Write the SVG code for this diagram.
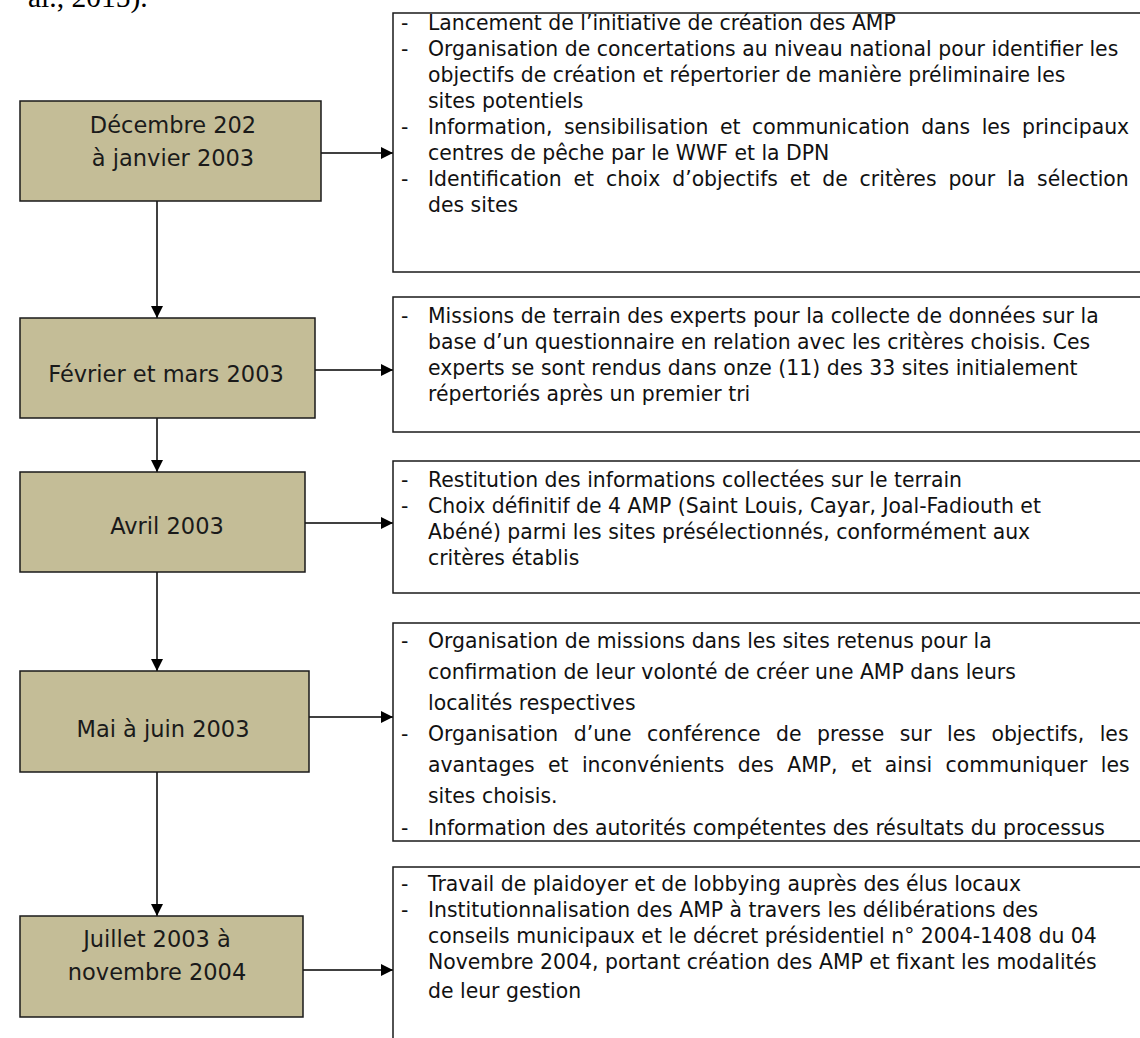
<svg xmlns="http://www.w3.org/2000/svg" width="1140" height="1038" viewBox="0 0 1140 1038">
<defs>
<style>
.bg{fill:#ffffff}
.date{fill:#C4BD97;stroke:#1a1a1a;stroke-width:1.5}
.info{fill:#ffffff;stroke:#1a1a1a;stroke-width:1.5}
.dt{font-family:"DejaVu Sans",sans-serif;font-size:22.5px;fill:#1a1a1a;text-anchor:middle}
.tx{font-family:"DejaVu Sans",sans-serif;font-size:20.4px;fill:#111111}
.cap{font-family:"Liberation Serif",serif;font-size:29.5px;fill:#000}
.conn{stroke:#000;stroke-width:1.5;fill:none}
</style>
<marker id="ah" viewBox="0 0 10 10" refX="10" refY="5" markerUnits="userSpaceOnUse" markerWidth="14" markerHeight="12" orient="auto">
<path d="M0,0 L10,5 L0,10 z" fill="#000"/>
</marker>
</defs>
<rect class="bg" x="0" y="0" width="1140" height="1038"/>
<text class="cap" x="28" y="7">al., 2015).</text>

<g id="connectors">
<line class="conn" x1="157" y1="201" x2="157" y2="318" marker-end="url(#ah)"/>
<line class="conn" x1="157" y1="418" x2="157" y2="472" marker-end="url(#ah)"/>
<line class="conn" x1="157" y1="572" x2="157" y2="671" marker-end="url(#ah)"/>
<line class="conn" x1="157" y1="772" x2="157" y2="916" marker-end="url(#ah)"/>
<line class="conn" x1="321" y1="153" x2="393" y2="153" marker-end="url(#ah)"/>
<line class="conn" x1="315" y1="370" x2="393" y2="370" marker-end="url(#ah)"/>
<line class="conn" x1="305" y1="523" x2="393" y2="523" marker-end="url(#ah)"/>
<line class="conn" x1="309" y1="717" x2="393" y2="717" marker-end="url(#ah)"/>
<line class="conn" x1="303" y1="970" x2="393" y2="970" marker-end="url(#ah)"/>
</g>

<g id="d1">
<rect class="date" x="20" y="101" width="301" height="100"/>
<text class="dt" x="173" y="133">Décembre 202</text>
<text class="dt" x="173" y="166">à janvier 2003</text>
</g>
<g id="d2">
<rect class="date" x="20" y="318" width="295" height="100"/>
<text class="dt" x="166" y="382">Février et mars 2003</text>
</g>
<g id="d3">
<rect class="date" x="20" y="472" width="285" height="100"/>
<text class="dt" x="167" y="534">Avril 2003</text>
</g>
<g id="d4">
<rect class="date" x="20" y="671" width="289" height="101"/>
<text class="dt" x="163" y="737">Mai à juin 2003</text>
</g>
<g id="d5">
<rect class="date" x="20" y="916" width="283" height="101"/>
<text class="dt" x="157" y="947">Juillet 2003 à</text>
<text class="dt" x="157" y="980">novembre 2004</text>
</g>

<g id="i1">
<rect class="info" x="393" y="13" width="800" height="259"/>
<text class="tx" x="401" y="30">-</text>
<text class="tx" x="428" y="30">Lancement de l’initiative de création des AMP</text>
<text class="tx" x="401" y="56">-</text>
<text class="tx" x="428" y="56">Organisation de concertations au niveau national pour identifier les</text>
<text class="tx" x="428" y="82">objectifs de création et répertorier de manière préliminaire les</text>
<text class="tx" x="428" y="108">sites potentiels</text>
<text class="tx" x="401" y="134">-</text>
<text class="tx" x="428" y="134" word-spacing="5">Information, sensibilisation et communication dans les principaux</text>
<text class="tx" x="428" y="160">centres de pêche par le WWF et la DPN</text>
<text class="tx" x="401" y="186">-</text>
<text class="tx" x="428" y="186" word-spacing="5.4">Identification et choix d’objectifs et de critères pour la sélection</text>
<text class="tx" x="428" y="212">des sites</text>
</g>

<g id="i2">
<rect class="info" x="393" y="297" width="800" height="135"/>
<text class="tx" x="401" y="323">-</text>
<text class="tx" x="428" y="323">Missions de terrain des experts pour la collecte de données sur la</text>
<text class="tx" x="428" y="349">base d’un questionnaire en relation avec les critères choisis. Ces</text>
<text class="tx" x="428" y="375">experts se sont rendus dans onze (11) des 33 sites initialement</text>
<text class="tx" x="428" y="401">répertoriés après un premier tri</text>
</g>

<g id="i3">
<rect class="info" x="393" y="461" width="800" height="132"/>
<text class="tx" x="401" y="487">-</text>
<text class="tx" x="428" y="487">Restitution des informations collectées sur le terrain</text>
<text class="tx" x="401" y="513">-</text>
<text class="tx" x="428" y="513">Choix définitif de 4 AMP (Saint Louis, Cayar, Joal-Fadiouth et</text>
<text class="tx" x="428" y="539">Abéné) parmi les sites présélectionnés, conformément aux</text>
<text class="tx" x="428" y="565">critères établis</text>
</g>

<g id="i4">
<rect class="info" x="393" y="623" width="800" height="218"/>
<text class="tx" x="401" y="648">-</text>
<text class="tx" x="428" y="648">Organisation de missions dans les sites retenus pour la</text>
<text class="tx" x="428" y="679">confirmation de leur volonté de créer une AMP dans leurs</text>
<text class="tx" x="428" y="710">localités respectives</text>
<text class="tx" x="401" y="741">-</text>
<text class="tx" x="428" y="741" word-spacing="9">Organisation d’une conférence de presse sur les objectifs, les</text>
<text class="tx" x="428" y="772" word-spacing="6.9">avantages et inconvénients des AMP, et ainsi communiquer les</text>
<text class="tx" x="428" y="803">sites choisis.</text>
<text class="tx" x="401" y="835">-</text>
<text class="tx" x="428" y="835">Information des autorités compétentes des résultats du processus</text>
</g>

<g id="i5">
<rect class="info" x="393" y="867" width="800" height="200"/>
<text class="tx" x="401" y="891">-</text>
<text class="tx" x="428" y="891">Travail de plaidoyer et de lobbying auprès des élus locaux</text>
<text class="tx" x="401" y="917">-</text>
<text class="tx" x="428" y="917">Institutionnalisation des AMP à travers les délibérations des</text>
<text class="tx" x="428" y="943">conseils municipaux et le décret présidentiel n° 2004-1408 du 04</text>
<text class="tx" x="428" y="969">Novembre 2004, portant création des AMP et fixant les modalités</text>
<text class="tx" x="428" y="998">de leur gestion</text>
</g>
</svg>
